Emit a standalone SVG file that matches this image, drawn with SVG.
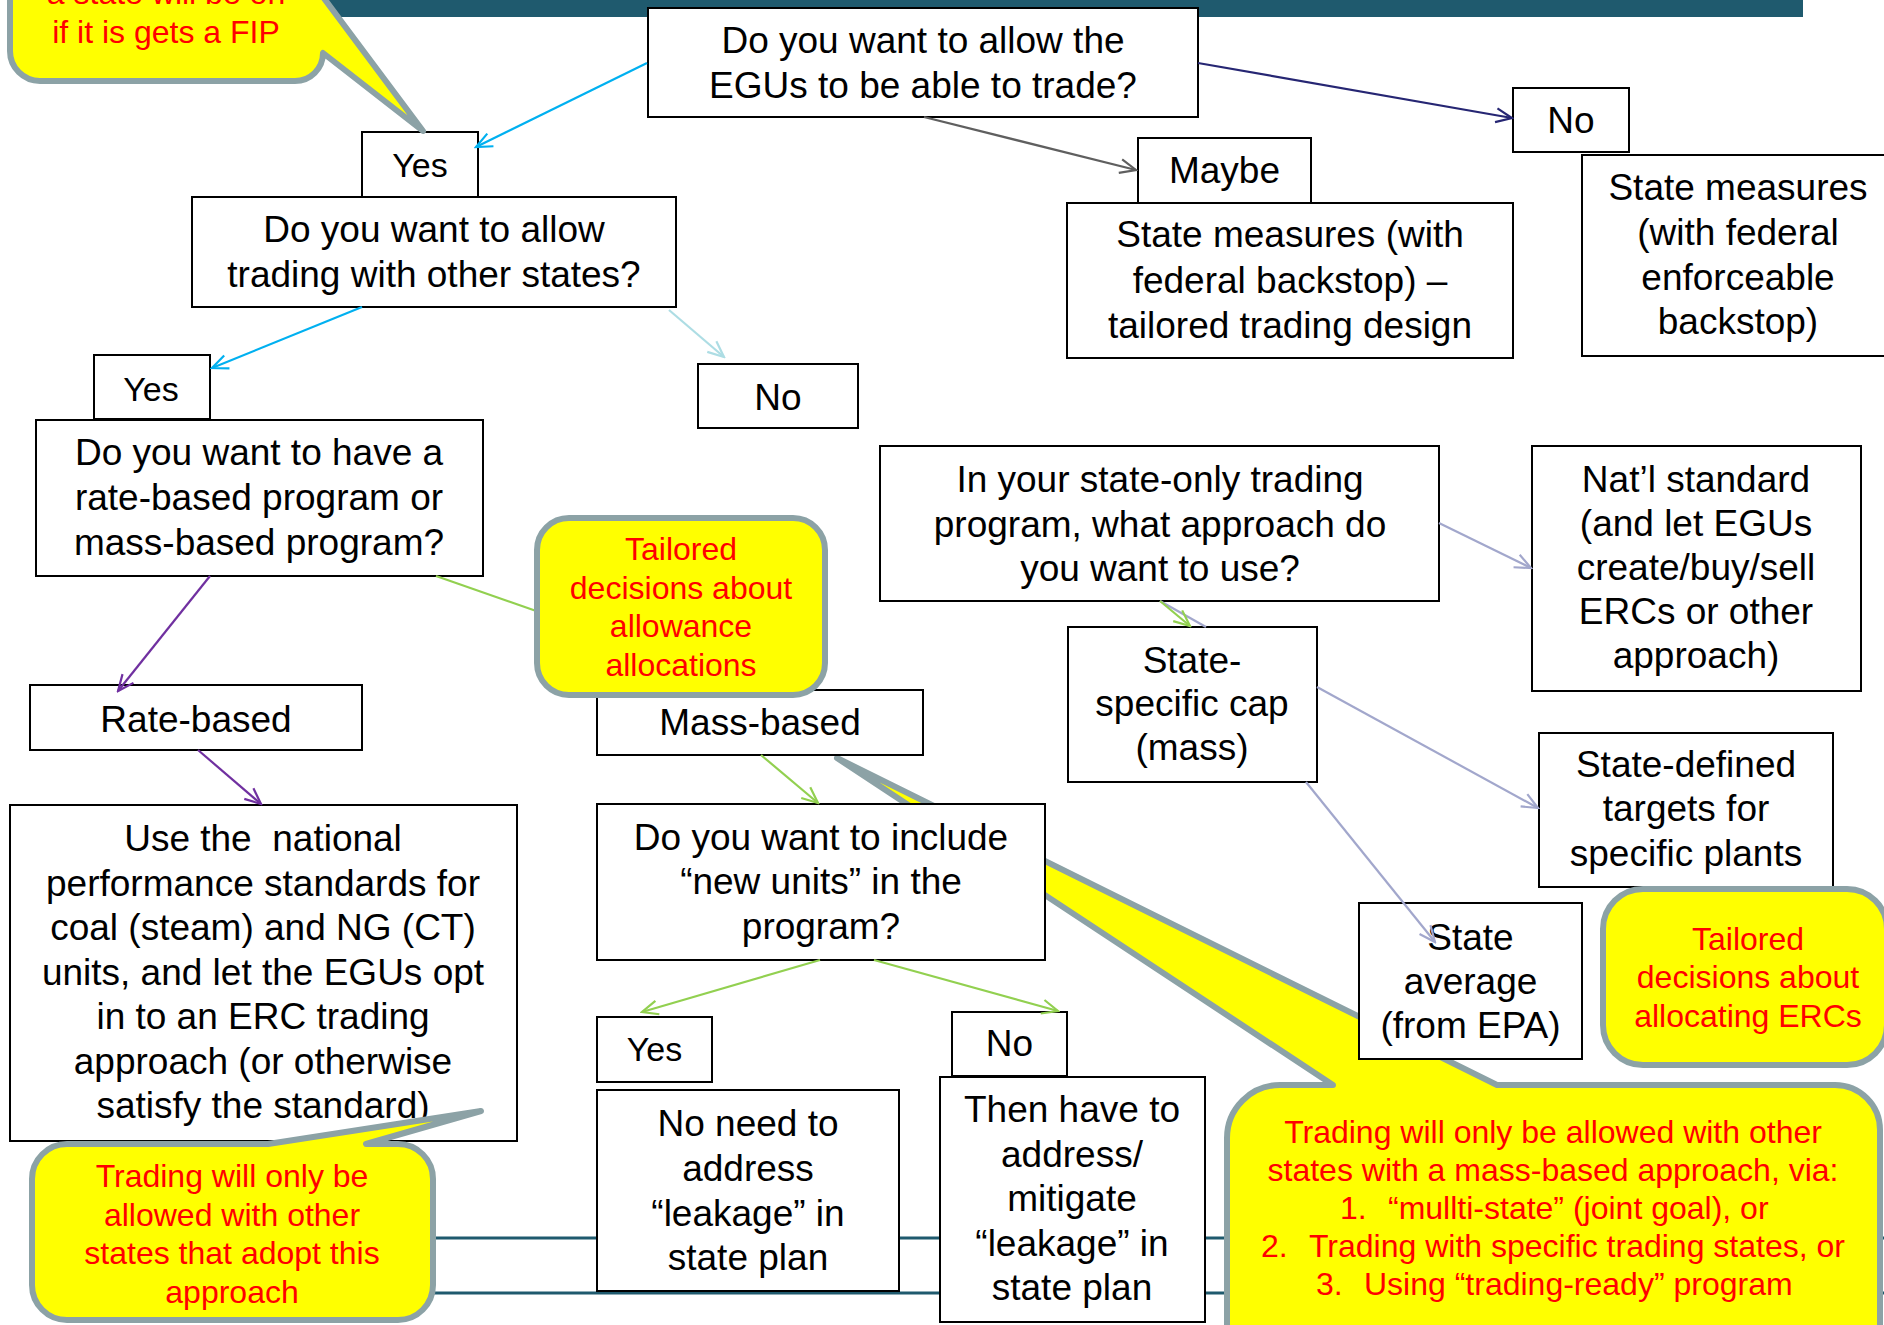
<svg xmlns="http://www.w3.org/2000/svg" width="1884" height="1325" viewBox="0 0 1884 1325">
<style>
.box{fill:#fff;stroke:#000;stroke-width:2}
.t{font-family:"Liberation Sans",Arial,sans-serif;font-size:37px;text-anchor:middle;fill:#000}
.y{font-size:34px}
.r{font-family:"Liberation Sans",Arial,sans-serif;font-size:32px;text-anchor:middle;fill:#ff0000}
.co{fill:#ffff00;stroke:#8CA2A6;stroke-width:6;stroke-linejoin:round}
.cn{fill:none;stroke-width:2.2}
.cyan{stroke:#00B0F0}.gray{stroke:#5F5F5F}.navy{stroke:#262673}.pale{stroke:#ADDDE4}
.purple{stroke:#7030A0}.green{stroke:#92D050}.lav{stroke:#A2A7CC}
.band{fill:#1F5A6E}
.foot{stroke:#1F5A6E;stroke-width:3}
</style>
<defs>
<marker id="m-cyan" viewBox="0 0 20 20" refX="18" refY="10" markerWidth="20" markerHeight="20" markerUnits="userSpaceOnUse" orient="auto"><path d="M2,3 L18,10 L2,17" fill="none" stroke="#00B0F0" stroke-width="2.2"/></marker>
<marker id="m-gray" viewBox="0 0 20 20" refX="18" refY="10" markerWidth="20" markerHeight="20" markerUnits="userSpaceOnUse" orient="auto"><path d="M2,3 L18,10 L2,17" fill="none" stroke="#5F5F5F" stroke-width="2.2"/></marker>
<marker id="m-navy" viewBox="0 0 20 20" refX="18" refY="10" markerWidth="20" markerHeight="20" markerUnits="userSpaceOnUse" orient="auto"><path d="M2,3 L18,10 L2,17" fill="none" stroke="#262673" stroke-width="2.2"/></marker>
<marker id="m-pale" viewBox="0 0 20 20" refX="18" refY="10" markerWidth="20" markerHeight="20" markerUnits="userSpaceOnUse" orient="auto"><path d="M2,3 L18,10 L2,17" fill="none" stroke="#ADDDE4" stroke-width="2.2"/></marker>
<marker id="m-purple" viewBox="0 0 20 20" refX="18" refY="10" markerWidth="20" markerHeight="20" markerUnits="userSpaceOnUse" orient="auto"><path d="M2,3 L18,10 L2,17" fill="none" stroke="#7030A0" stroke-width="2.2"/></marker>
<marker id="m-green" viewBox="0 0 20 20" refX="18" refY="10" markerWidth="20" markerHeight="20" markerUnits="userSpaceOnUse" orient="auto"><path d="M2,3 L18,10 L2,17" fill="none" stroke="#92D050" stroke-width="2.2"/></marker>
<marker id="m-lav" viewBox="0 0 20 20" refX="18" refY="10" markerWidth="20" markerHeight="20" markerUnits="userSpaceOnUse" orient="auto"><path d="M2,3 L18,10 L2,17" fill="none" stroke="#A2A7CC" stroke-width="2.2"/></marker>
</defs>
<rect width="1884" height="1325" fill="#fff"/>
<rect class="band" x="328" y="0" width="1475" height="17"/>
<g id="footer-lines">
<line class="foot" x1="60" y1="1238" x2="1884" y2="1238"/>
<line class="foot" x1="60" y1="1293" x2="1884" y2="1293"/>
</g>

<g id="co-mass">
<path class="co" d="M1280,1085 H1333 L837,758 L1497,1085 H1835 A45,45 0 0 1 1880,1130 V1370 H1227 V1138 A53,53 0 0 1 1280,1085 Z"/>
<text class="r" x="1553" y="1143">Trading will only be allowed with other</text>
<text class="r" x="1553" y="1180.5">states with a mass-based approach, via:</text>
<text class="r" style="text-anchor:start" y="1218.5"><tspan x="1340">1.</tspan><tspan x="1388">“mullti-state” (joint goal), or</tspan></text>
<text class="r" style="text-anchor:start" y="1257"><tspan x="1261">2.</tspan><tspan x="1309">Trading with specific trading states, or</tspan></text>
<text class="r" style="text-anchor:start" y="1295"><tspan x="1316">3.</tspan><tspan x="1364">Using “trading-ready” program</tspan></text>
</g>

<g id="n-trade"><rect class="box" x="648" y="8" width="550" height="109"/>
<text class="t" x="923" y="53">Do you want to allow the</text><text class="t" x="923" y="98">EGUs to be able to trade?</text></g>
<g id="n-yes1"><rect class="box" x="362" y="132" width="116" height="65"/><text class="t y" x="420" y="177">Yes</text></g>
<g id="n-other"><rect class="box" x="192" y="197" width="484" height="110"/>
<text class="t" x="434" y="242">Do you want to allow</text><text class="t" x="434" y="287">trading with other states?</text></g>
<g id="n-yes2"><rect class="box" x="94" y="355" width="116" height="64"/><text class="t y" x="151" y="401">Yes</text></g>
<g id="n-no2"><rect class="box" x="698" y="364" width="160" height="64"/><text class="t" x="778" y="410">No</text></g>
<g id="n-ratemass"><rect class="box" x="36" y="420" width="447" height="156"/>
<text class="t" x="259" y="465">Do you want to have a</text><text class="t" x="259" y="510">rate-based program or</text><text class="t" x="259" y="555">mass-based program?</text></g>
<g id="n-rate"><rect class="box" x="30" y="685" width="332" height="65"/><text class="t" x="196" y="732">Rate-based</text></g>
<g id="n-mass"><rect class="box" x="597" y="690" width="326" height="65"/><text class="t" x="760" y="735">Mass-based</text></g>
<g id="n-national"><rect class="box" x="10" y="805" width="507" height="336"/>
<text class="t" x="263" y="851" xml:space="preserve">Use the  national</text>
<text class="t" x="263" y="895.5">performance standards for</text>
<text class="t" x="263" y="940">coal (steam) and NG (CT)</text>
<text class="t" x="263" y="984.5">units, and let the EGUs opt</text>
<text class="t" x="263" y="1029">in to an ERC trading</text>
<text class="t" x="263" y="1073.5">approach (or otherwise</text>
<text class="t" x="263" y="1118">satisfy the standard)</text></g>
<g id="n-newunits"><rect class="box" x="597" y="804" width="448" height="156"/>
<text class="t" x="821" y="849.5">Do you want to include</text><text class="t" x="821" y="894">“new units” in the</text><text class="t" x="821" y="938.5">program?</text></g>
<g id="n-yes3"><rect class="box" x="597" y="1017" width="115" height="65"/><text class="t y" x="654.5" y="1061">Yes</text></g>
<g id="n-no3"><rect class="box" x="952" y="1012" width="115" height="64"/><text class="t" x="1009.5" y="1056">No</text></g>
<g id="n-noneed"><rect class="box" x="597" y="1090" width="302" height="201"/>
<text class="t" x="748" y="1136">No need to</text><text class="t" x="748" y="1181">address</text><text class="t" x="748" y="1226">“leakage” in</text><text class="t" x="748" y="1270">state plan</text></g>
<g id="n-thenhave"><rect class="box" x="940" y="1077" width="265" height="245"/>
<text class="t" x="1072" y="1122">Then have to</text><text class="t" x="1072" y="1166.5">address/</text><text class="t" x="1072" y="1211">mitigate</text><text class="t" x="1072" y="1255.5">“leakage” in</text><text class="t" x="1072" y="1300">state plan</text></g>
<g id="n-maybe"><rect class="box" x="1138" y="138" width="173" height="65"/><text class="t" x="1224.5" y="183">Maybe</text></g>
<g id="n-tailoreddesign"><rect class="box" x="1067" y="203" width="446" height="155"/>
<text class="t" x="1290" y="246.5">State measures (with</text><text class="t" x="1290" y="292.5">federal backstop) –</text><text class="t" x="1290" y="338.3">tailored trading design</text></g>
<g id="n-no1"><rect class="box" x="1513" y="88" width="116" height="64"/><text class="t" x="1571" y="133">No</text></g>
<g id="n-statemeasures"><rect class="box" x="1582" y="155" width="312" height="201"/>
<text class="t" x="1738" y="200">State measures</text><text class="t" x="1738" y="245">(with federal</text><text class="t" x="1738" y="289.5">enforceable</text><text class="t" x="1738" y="334">backstop)</text></g>
<g id="n-stateonly"><rect class="box" x="880" y="446" width="559" height="155"/>
<text class="t" x="1160" y="491.7">In your state-only trading</text><text class="t" x="1160" y="536.5">program, what approach do</text><text class="t" x="1160" y="581">you want to use?</text></g>
<g id="n-natl"><rect class="box" x="1532" y="446" width="329" height="245"/>
<text class="t" x="1696" y="491.5">Nat’l standard</text><text class="t" x="1696" y="535.7">(and let EGUs</text><text class="t" x="1696" y="579.9">create/buy/sell</text><text class="t" x="1696" y="624.1">ERCs or other</text><text class="t" x="1696" y="668.3">approach)</text></g>
<g id="n-cap"><rect class="box" x="1068" y="627" width="249" height="155"/>
<text class="t" x="1192" y="672.7">State-</text><text class="t" x="1192" y="716.4">specific cap</text><text class="t" x="1192" y="760">(mass)</text></g>
<g id="n-targets"><rect class="box" x="1539" y="733" width="294" height="154"/>
<text class="t" x="1686" y="776.7">State-defined</text><text class="t" x="1686" y="821">targets for</text><text class="t" x="1686" y="865.5">specific plants</text></g>
<g id="n-average"><rect class="box" x="1359" y="903" width="223" height="156"/>
<text class="t" x="1470.5" y="950">State</text><text class="t" x="1470.5" y="994">average</text><text class="t" x="1470.5" y="1038">(from EPA)</text></g>

<g id="connectors">
<path class="cn cyan" d="M647,63 L476,147" marker-end="url(#m-cyan)"/>
<path class="cn gray" d="M924,117 L1136,170" marker-end="url(#m-gray)"/>
<path class="cn navy" d="M1198,63 L1512,118" marker-end="url(#m-navy)"/>
<path class="cn cyan" d="M362,307 L212,368" marker-end="url(#m-cyan)"/>
<path class="cn pale" d="M669,310 L724,357" marker-end="url(#m-pale)"/>
<path class="cn purple" d="M210,576 L118,691" marker-end="url(#m-purple)"/>
<path class="cn purple" d="M198,750 L261,804" marker-end="url(#m-purple)"/>
<path class="cn green" d="M436,576 L762,690" marker-end="url(#m-green)"/>
<path class="cn green" d="M761,755 L818,803" marker-end="url(#m-green)"/>
<path class="cn green" d="M820,960 L642,1012" marker-end="url(#m-green)"/>
<path class="cn green" d="M874,960 L1058,1011" marker-end="url(#m-green)"/>
<path class="cn lav" d="M1160,601 L1206,627"/>
<path class="cn green" d="M1160,601 L1190,626" marker-end="url(#m-green)"/>
<path class="cn lav" d="M1439,523 L1531,568" marker-end="url(#m-lav)"/>
<path class="cn lav" d="M1317,687 L1538,808" marker-end="url(#m-lav)"/>
<path class="cn lav" d="M1306,782 L1435,942" marker-end="url(#m-lav)"/>
</g>

<g id="co-fip">
<path class="co" d="M40,-90 H293 A30,30 0 0 1 323,-60 V-3 L423,131 L323,53 A28,28 0 0 1 295,81 H40 A30,30 0 0 1 10,51 V-60 A30,30 0 0 1 40,-90 Z"/>
<text class="r" x="166" y="4">a state will be on</text>
<text class="r" x="166" y="43">if it is gets a FIP</text>
</g>
<g id="co-allowance">
<rect class="co" x="537" y="518" width="288" height="177" rx="32"/>
<text class="r" x="681" y="560">Tailored</text>
<text class="r" x="681" y="598.5">decisions about</text>
<text class="r" x="681" y="637">allowance</text>
<text class="r" x="681" y="675.5">allocations</text>
</g>
<g id="co-rate">
<path class="co" d="M67,1144 H268 L481,1111 L366,1144 H398 A35,35 0 0 1 433,1179 V1285 A35,35 0 0 1 398,1320 H67 A35,35 0 0 1 32,1285 V1179 A35,35 0 0 1 67,1144 Z"/>
<text class="r" x="232" y="1187">Trading will only be</text>
<text class="r" x="232" y="1225.5">allowed with other</text>
<text class="r" x="232" y="1264">states that adopt this</text>
<text class="r" x="232" y="1302.5">approach</text>
</g>
<g id="co-erc">
<rect class="co" x="1603" y="889" width="284" height="176" rx="40"/>
<text class="r" x="1748" y="950">Tailored</text>
<text class="r" x="1748" y="988">decisions about</text>
<text class="r" x="1748" y="1026.5">allocating ERCs</text>
</g>
</svg>
